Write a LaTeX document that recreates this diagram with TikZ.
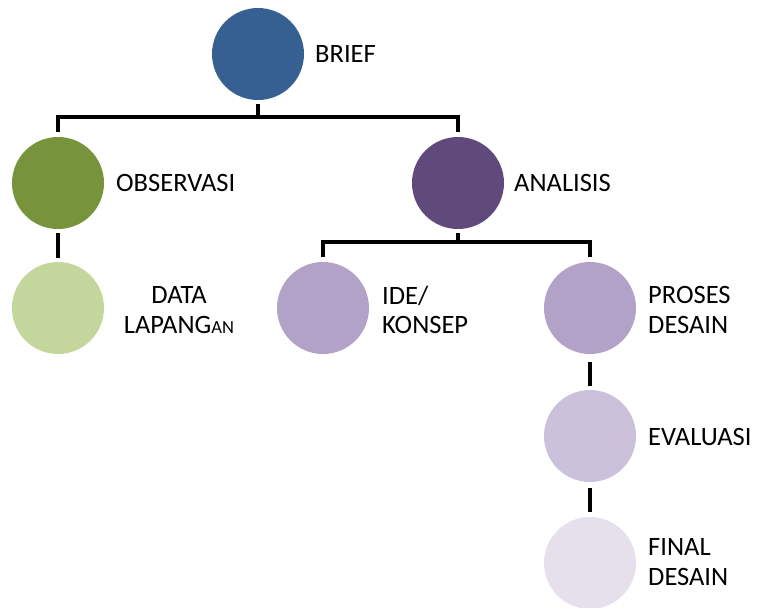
\documentclass[tikz,border=0pt]{standalone}
\usepackage{fontspec}
\setmainfont{Carlito}
\usetikzlibrary{calc}
\definecolor{cBrief}{HTML}{376092}
\definecolor{cObs}{HTML}{77933C}
\definecolor{cAna}{HTML}{604A7B}
\definecolor{cData}{HTML}{C3D69B}
\definecolor{cMid}{HTML}{B3A2C7}
\definecolor{cEval}{HTML}{CCC1DA}
\definecolor{cFinal}{HTML}{E5E0EC}
\tikzset{
  bubble/.style={circle, minimum size=92pt, inner sep=0pt, draw=none},
  lbl/.style={anchor=west, inner sep=0pt, align=left, font=\fontsize{26.5}{29.5}\selectfont},
  lblc/.style={inner sep=0pt, align=center, font=\fontsize{26.5}{29.5}\selectfont},
  conn/.style={draw=black, line width=4.5pt}
}
\begin{document}
\begin{tikzpicture}[x=1pt,y=-1pt]
\useasboundingbox (0,0) rectangle (758,608);
% circles
\node[bubble, fill=cBrief] (brief) at (258,54) {};
\node[bubble, fill=cObs] (obs) at (58,183) {};
\node[bubble, fill=cAna] (ana) at (458,183) {};
\node[bubble, fill=cData] (data) at (58,308) {};
\node[bubble, fill=cMid] (ide) at (323,308) {};
\node[bubble, fill=cMid] (proses) at (590,308) {};
\node[bubble, fill=cEval] (eval) at (590,436) {};
\node[bubble, fill=cFinal] (final) at (590,563) {};
% labels
\node[lbl] (lbrief) at (315,54) {BRIEF};
\node[lbl] (lobs) at (116,183) {OBSERVASI};
\node[lbl] (lana) at (514,183) {ANALISIS};
\node[lblc] (ldata) at (179,310) {DATA\\LAPANG{\fontsize{18.5}{20}\selectfont AN}};
\node[lbl] (lide) at (382,310) {IDE/\\KONSEP};
\node[lbl] (lproses) at (648,310) {PROSES\\DESAIN};
\node[lbl] (leval) at (648,437) {EVALUASI};
\node[lbl] (lfinal) at (648,562) {FINAL\\DESAIN};
% connectors
\coordinate (b1) at ($(brief.south)+(0,4)$);
\coordinate (b2) at ($(brief.south)+(0,17)$);
\coordinate (o1) at ($(obs.north)+(0,-5)$);
\coordinate (a1) at ($(ana.north)+(0,-5)$);
\draw[conn] (b1) -- (b2);
\draw[conn] (o1) |- (b2) -| (a1);
\coordinate (c1) at ($(ana.south)+(0,4)$);
\coordinate (c2) at ($(ana.south)+(0,13)$);
\coordinate (i1) at ($(ide.north)+(0,-5)$);
\coordinate (p1) at ($(proses.north)+(0,-5)$);
\draw[conn] (c1) -- (c2);
\draw[conn] (i1) |- (c2) -| (p1);
\draw[conn] ($(obs.south)+(0,4)$) -- ($(data.north)+(0,-4)$);
\draw[conn] ($(proses.south)+(0,8)$) -- ($(eval.north)+(0,-4)$);
\draw[conn] ($(eval.south)+(0,6)$) -- ($(final.north)+(0,-5)$);
\end{tikzpicture}
\end{document}
